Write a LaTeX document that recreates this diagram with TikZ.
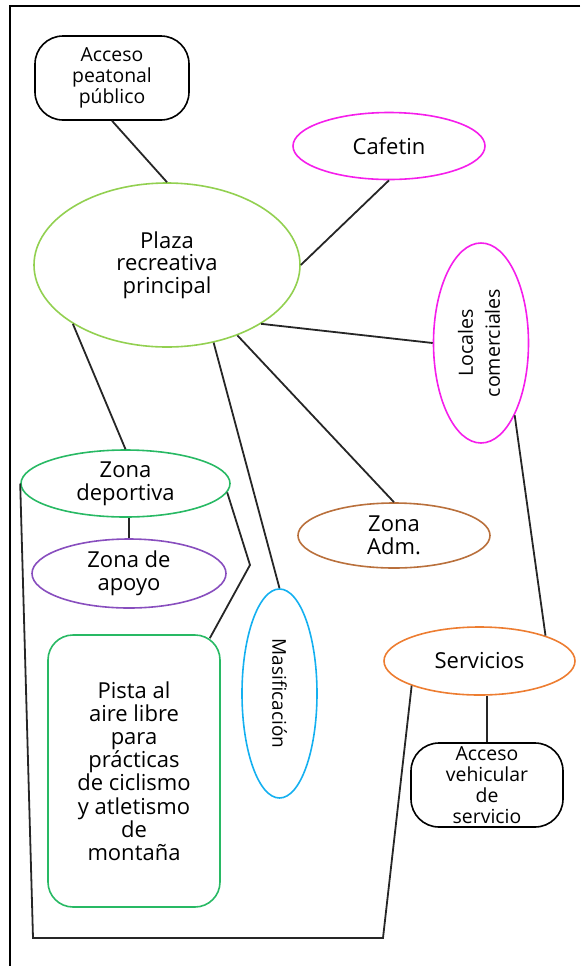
\documentclass[tikz,border=0pt]{standalone}
\usepackage{fontspec}
\setmainfont{Open Sans}
\definecolor{plazagreen}{RGB}{146,208,80}
\definecolor{shopmagenta}{RGB}{245,30,235}
\definecolor{sportgreen}{RGB}{40,185,100}
\definecolor{apoyopurple}{RGB}{136,78,190}
\definecolor{masifblue}{RGB}{20,176,240}
\definecolor{admbrown}{RGB}{185,112,60}
\definecolor{servorange}{RGB}{237,125,49}
\usetikzlibrary{calc, shapes.geometric}

\begin{document}
\begin{tikzpicture}[x=1pt, y=1pt,
    zone/.style={ellipse, draw, line width=0.8pt, inner sep=0pt, align=center,
                 font=\fontsize{11}{11.3}\selectfont},
    accessbox/.style={draw, line width=0.8pt, rounded corners=14pt, inner sep=0pt,
                 align=center, font=\fontsize{9.7}{10.5}\selectfont},
    link/.style={line width=0.9pt, black!85}]
  \useasboundingbox (0,0) rectangle (290,-483);
  % frame
  \draw[line width=1.3pt] (290,-3) -- (5,-3) -- (5,-483);

  \node[accessbox, minimum width=77pt, minimum height=42pt]
    (peatonal) at (56,-39) {Acceso\\peatonal\\público};
  \node[zone, draw=plazagreen, minimum width=133pt, minimum height=82pt]
    (plaza) at (83.5,-132.5) {Plaza\\recreativa\\principal};
  \node[zone, draw=shopmagenta, minimum width=96pt, minimum height=33.5pt]
    (cafetin) at (194.5,-73) {Cafetin};
  \node[zone, draw=shopmagenta, minimum width=47.5pt, minimum height=100pt,
        font=\fontsize{9.8}{13.5}\selectfont]
    (locales) at (240.5,-171.5) {\rotatebox{90}{\begin{tabular}{@{}c@{}}Locales\\comerciales\end{tabular}}};
  \node[zone, draw=sportgreen, minimum width=104.5pt, minimum height=33.5pt]
    (deportiva) at (62.75,-241.75) {Zona\\deportiva};
  \node[zone, draw=apoyopurple, minimum width=97pt, minimum height=34.5pt]
    (apoyo) at (64.5,-286.75) {Zona de\\apoyo};
  \node[draw=sportgreen, line width=0.8pt, rounded corners=12.5pt, inner sep=0pt,
        minimum width=86pt, minimum height=136pt, align=center,
        font=\fontsize{11}{11.6}\selectfont]
    (pista) at (67,-385.5) {Pista al\\aire libre\\para\\prácticas\\de ciclismo\\y atletismo\\de\\montaña};
  \node[zone, draw=masifblue, minimum width=37.5pt, minimum height=104.5pt,
        font=\fontsize{9.5}{11}\selectfont]
    (masif) at (139.75,-346.75) {\rotatebox{-90}{Masificación}};
  \node[zone, draw=admbrown, minimum width=96pt, minimum height=32.5pt]
    (adm) at (197,-267.75) {Zona\\Adm.};
  \node[zone, draw=servorange, minimum width=95.5pt, minimum height=34pt]
    (servicios) at (239.75,-330.5) {Servicios};
  \node[accessbox, minimum width=76pt, minimum height=42pt]
    (vehicular) at (243.5,-392.5) {Acceso\\vehicular\\de\\servicio};

  \coordinate (bend) at (125,-282.5);
  \coordinate (cornerL) at (16.5,-469);
  \coordinate (cornerR) at (191.5,-469);

  \draw[link] (peatonal.south) -- (plaza.north);
  \draw[link] (plaza.east) -- (cafetin.south);
  \draw[link] (plaza.-32) -- (locales.west);
  \draw[link] (plaza.-45) -- (adm.north);
  \draw[link] (plaza.-59) -- (masif.north);
  \draw[link] (plaza.-148) -- (deportiva.north);
  \draw[link] (locales.-65) -- (servicios.21);
  \draw[link] (apoyo.north) -- (apoyo.north |- deportiva.south);
  \draw[link] (deportiva.-5) -- (bend) -- ($(pista.north east)+(-5.5,-2)$);
  \draw[link] (servicios.south -| vehicular.north) -- (vehicular.north);
  % enclosing line
  \draw[link] (deportiva.west) -- (cornerL) -- (cornerR) -- (servicios.200);
\end{tikzpicture}
\end{document}
